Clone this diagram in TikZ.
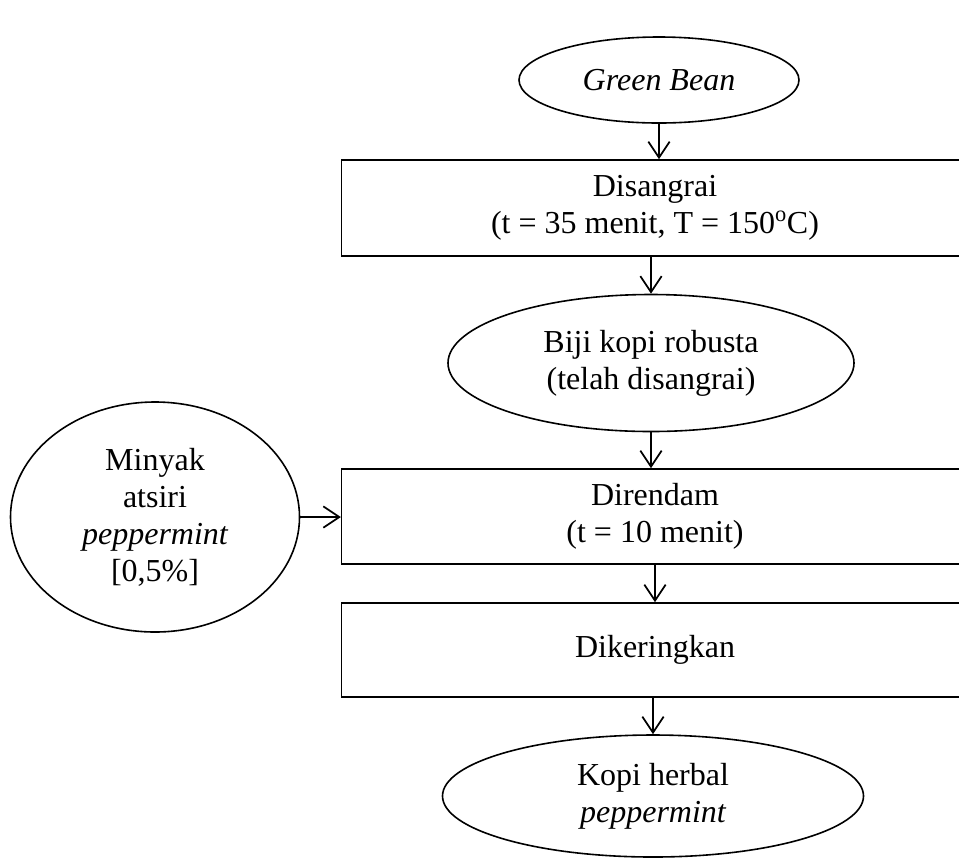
\documentclass[tikz,border=0pt]{standalone}
\usepackage{fontspec}
\setmainfont{Liberation Serif}
\usetikzlibrary{shapes.geometric,arrows.meta}
\begin{document}
\begin{tikzpicture}[x=0.75pt,y=-0.75pt,
  every node/.style={font=\fontsize{24pt}{27.75pt}\selectfont, align=center, inner sep=0pt},
  oval/.style={draw, ellipse, line width=1.2pt},
  procbox/.style={draw, rectangle, line width=1.2pt, minimum width=470pt},
  flow/.style={line width=1.3pt, -{Straight Barb[length=12pt,width=16pt,line width=1.3pt]}}]
\useasboundingbox (0,0) rectangle (959,865);
\node[oval, minimum width=210pt, minimum height=64.5pt] (gb) at (659,80) {\itshape Green Bean};
\node[procbox, minimum height=72pt] (dis) at (655,208) {Disangrai\\(t = 35 menit, T = 150\textsuperscript{o}C)};
\node[oval, minimum width=304.5pt, minimum height=102.75pt] (biji) at (651,363) {Biji kopi robusta\\(telah disangrai)};
\node[procbox, minimum height=71.25pt] (dir) at (655,516.5) {Direndam\\(t = 10 menit)};
\node[procbox, minimum height=70.5pt] (dik) at (655,650) {Dikeringkan};
\node[oval, minimum width=315.75pt, minimum height=91.5pt] (kopi) at (653,796) {Kopi herbal\\\itshape peppermint};
\node[oval, minimum width=216.75pt, minimum height=172.5pt] (min) at (155,517) {Minyak\\atsiri\\\itshape peppermint\\{}[0,5\%]};
\draw[flow] (gb.south) -- (gb.south |- dis.north);
\draw[flow] (biji.north |- dis.south) -- (biji.north);
\draw[flow] (biji.south) -- (biji.south |- dir.north);
\draw[flow] (dir.south) -- (dik.north);
\draw[flow] (kopi.north |- dik.south) -- (kopi.north);
\draw[flow] (min.east) -- (min.east -| dir.west);
\end{tikzpicture}
\end{document}
